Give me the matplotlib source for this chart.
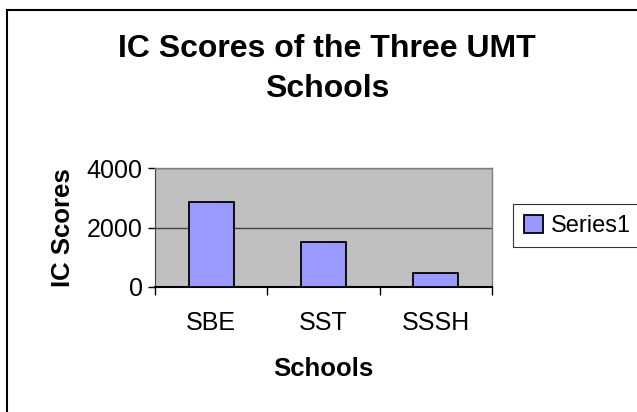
import matplotlib.pyplot as plt
from matplotlib.patches import Rectangle
import numpy as np

plt.rcParams['font.family'] = ['Liberation Sans', 'DejaVu Sans']

# data
schools = ['SBE', 'SST', 'SSSH']
scores = [2870, 1500, 470]
yticks = [0, 2000, 4000]

W, H = 637, 412
fig = plt.figure(figsize=(W / 100, H / 100), dpi=100)

# plot area (pixels: left 155, right 492, top 168, bottom 287)
ax = fig.add_axes([155 / W, 1 - 287 / H, (492 - 155) / W, (287 - 168) / H])
ax.set_facecolor('#C0C0C0')

x = np.arange(len(schools))
ax.bar(x, scores, width=0.4, color='#9999FF', edgecolor='black', linewidth=1.3,
       zorder=3, label='Series1')

ax.set_xlim(-0.5, len(schools) - 0.5)
ax.set_ylim(0, 4000)
ax.set_yticks(yticks)
ax.set_yticklabels([str(v) for v in yticks], fontsize=18)
ax.set_xticks(x)
ax.set_xticklabels(schools, fontsize=18)
ax.tick_params(axis='x', length=0, pad=17)
ax.set_xticks(np.arange(len(schools) + 1) - 0.5, minor=True)
ax.tick_params(axis='x', which='minor', length=6, width=1, color='black')
ax.tick_params(axis='y', length=5, width=1, color='black', pad=4)

ax.grid(axis='y', color='#404040', linewidth=1, zorder=1)
for s in ['top', 'right']:
    ax.spines[s].set_color('#808080')
    ax.spines[s].set_linewidth(1)
ax.spines['left'].set_color('#404040')
ax.spines['bottom'].set_color('black')
ax.spines['bottom'].set_linewidth(1.5)

ax.set_xlabel('Schools', fontsize=18.5, fontweight='bold', labelpad=16)
ax.set_ylabel('IC Scores', fontsize=18.5, fontweight='bold', labelpad=8)

fig.text(327 / W, 1 - 69 / H, 'IC Scores of the Three UMT\nSchools', ha='center', va='center',
         fontsize=23, fontweight='bold', linespacing=1.42)

leg = fig.legend(loc='upper left', bbox_to_anchor=(513 / W, 1 - 204 / H), fontsize=17,
                 frameon=True, fancybox=False, edgecolor='black', handlelength=0.8,
                 handleheight=0.8, handletextpad=0.35, borderpad=0.45, borderaxespad=0)
leg.get_frame().set_linewidth(0.8)

fig.patches.append(Rectangle((7 / W, -0.1), 1.2, 1 - 10 / H + 0.1, transform=fig.transFigure,
                             fill=False, edgecolor='black', linewidth=1.5))

fig.savefig('out.png', dpi=100)
